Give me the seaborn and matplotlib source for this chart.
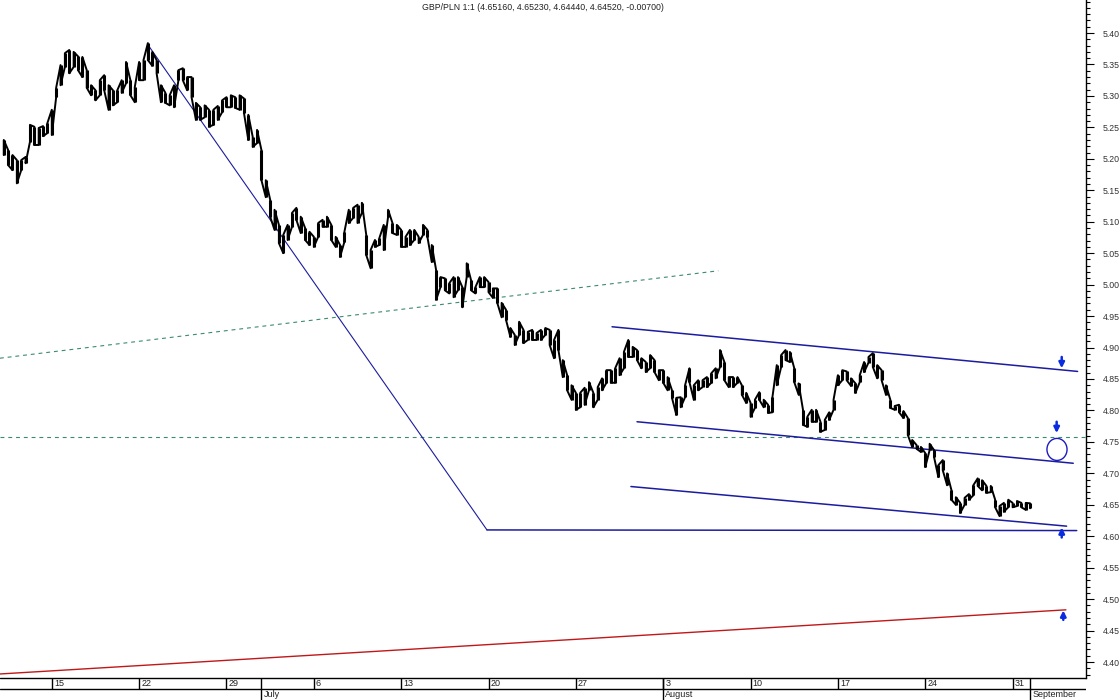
import numpy as np
import pandas as pd
import matplotlib
matplotlib.use("Agg")
import matplotlib.pyplot as plt
from matplotlib.ticker import MultipleLocator, FormatStrFormatter
from matplotlib.patches import Ellipse
import seaborn as sns

sns.set_style("white")
plt.rcParams["font.family"] = ["Liberation Sans", "DejaVu Sans"]

# GBP/PLN, quarter-day bars, x = trading days counted from Mon 15 June
bar_high = [
    5.230, 5.214, 5.206, 5.198, 5.198, 5.203, 5.254, 5.251, 5.249, 5.252,
    5.257, 5.278, 5.313, 5.349, 5.368, 5.373, 5.370, 5.363, 5.362, 5.341,
    5.317, 5.309, 5.325, 5.333, 5.317, 5.309, 5.309, 5.325, 5.354, 5.325,
    5.314, 5.354, 5.357, 5.384, 5.370, 5.357, 5.317, 5.305, 5.301, 5.317,
    5.341, 5.344, 5.330, 5.330, 5.289, 5.282, 5.285, 5.278, 5.278, 5.284,
    5.293, 5.298, 5.301, 5.298, 5.301, 5.296, 5.270, 5.235, 5.246, 5.214,
    5.166, 5.135, 5.119, 5.095, 5.079, 5.095, 5.114, 5.122, 5.108, 5.090,
    5.084, 5.076, 5.098, 5.103, 5.108, 5.095, 5.076, 5.063, 5.084, 5.119,
    5.122, 5.127, 5.130, 5.079, 5.055, 5.071, 5.074, 5.095, 5.119, 5.098,
    5.095, 5.087, 5.076, 5.087, 5.087, 5.076, 5.095, 5.087, 5.063, 5.023,
    5.012, 5.010, 5.002, 5.012, 5.012, 4.996, 5.034, 5.007, 4.996, 5.012,
    5.012, 5.004, 4.994, 4.994, 4.971, 4.960, 4.931, 4.920, 4.941, 4.928,
    4.925, 4.928, 4.923, 4.928, 4.931, 4.928, 4.912, 4.928, 4.880, 4.856,
    4.840, 4.828, 4.828, 4.836, 4.845, 4.828, 4.837, 4.851, 4.864, 4.864,
    4.867, 4.883, 4.893, 4.912, 4.901, 4.896, 4.883, 4.877, 4.888, 4.880,
    4.864, 4.864, 4.853, 4.832, 4.820, 4.821, 4.840, 4.867, 4.840, 4.848,
    4.848, 4.853, 4.859, 4.867, 4.896, 4.877, 4.853, 4.853, 4.853, 4.840,
    4.828, 4.812, 4.817, 4.829, 4.817, 4.809, 4.821, 4.872, 4.888, 4.896,
    4.893, 4.867, 4.843, 4.801, 4.790, 4.801, 4.801, 4.782, 4.785, 4.797,
    4.817, 4.856, 4.864, 4.862, 4.851, 4.843, 4.856, 4.877, 4.885, 4.891,
    4.872, 4.864, 4.840, 4.817, 4.807, 4.809, 4.799, 4.788, 4.753, 4.745,
    4.742, 4.732, 4.747, 4.737, 4.713, 4.721, 4.700, 4.673, 4.662, 4.653,
    4.661, 4.667, 4.681, 4.692, 4.689, 4.680, 4.680, 4.658, 4.648, 4.653,
    4.658, 4.653, 4.656, 4.653, 4.653, 4.6523,
]
bar_low = [
    5.206, 5.190, 5.182, 5.161, 5.182, 5.193, 5.227, 5.222, 5.222, 5.236,
    5.241, 5.238, 5.298, 5.317, 5.346, 5.336, 5.346, 5.341, 5.330, 5.313,
    5.301, 5.293, 5.301, 5.309, 5.278, 5.285, 5.290, 5.305, 5.320, 5.301,
    5.290, 5.325, 5.325, 5.357, 5.348, 5.336, 5.290, 5.289, 5.285, 5.282,
    5.325, 5.325, 5.309, 5.298, 5.262, 5.262, 5.266, 5.251, 5.254, 5.262,
    5.274, 5.282, 5.282, 5.281, 5.278, 5.273, 5.230, 5.219, 5.225, 5.166,
    5.139, 5.108, 5.087, 5.066, 5.050, 5.071, 5.092, 5.103, 5.082, 5.071,
    5.063, 5.060, 5.076, 5.092, 5.092, 5.071, 5.060, 5.044, 5.068, 5.098,
    5.106, 5.098, 5.114, 5.047, 5.026, 5.060, 5.063, 5.055, 5.108, 5.082,
    5.079, 5.060, 5.060, 5.063, 5.071, 5.066, 5.079, 5.076, 5.036, 4.976,
    4.996, 4.991, 4.986, 4.980, 4.991, 4.964, 5.012, 4.991, 4.986, 4.996,
    4.996, 4.988, 4.979, 4.971, 4.948, 4.944, 4.917, 4.904, 4.920, 4.907,
    4.912, 4.912, 4.912, 4.912, 4.920, 4.904, 4.883, 4.896, 4.853, 4.832,
    4.817, 4.801, 4.805, 4.809, 4.832, 4.805, 4.817, 4.832, 4.844, 4.844,
    4.844, 4.856, 4.867, 4.885, 4.885, 4.880, 4.867, 4.861, 4.867, 4.861,
    4.848, 4.844, 4.832, 4.820, 4.793, 4.805, 4.821, 4.845, 4.817, 4.832,
    4.837, 4.837, 4.844, 4.851, 4.869, 4.848, 4.837, 4.837, 4.844, 4.825,
    4.812, 4.790, 4.804, 4.817, 4.805, 4.796, 4.797, 4.840, 4.869, 4.880,
    4.877, 4.845, 4.825, 4.777, 4.774, 4.782, 4.782, 4.766, 4.769, 4.785,
    4.801, 4.840, 4.848, 4.848, 4.839, 4.828, 4.845, 4.861, 4.876, 4.869,
    4.851, 4.848, 4.825, 4.804, 4.801, 4.797, 4.788, 4.761, 4.742, 4.739,
    4.734, 4.710, 4.737, 4.726, 4.694, 4.705, 4.681, 4.658, 4.650, 4.637,
    4.650, 4.658, 4.665, 4.680, 4.673, 4.669, 4.670, 4.646, 4.632, 4.639,
    4.646, 4.646, 4.648, 4.646, 4.642, 4.6444,
]
bar_t = -2.75 + 0.25 * np.arange(len(bar_high))

# drawn trend lines: (t start, t end), (price start, price end)
fall_t, fall_p = [5.51, 24.91], [5.381, 4.610]
base_t, base_p = [24.91, 58.67], [4.610, 4.609]
chan_top_t, chan_top_p = [32.07, 58.72], [4.933, 4.862]
chan_mid_t, chan_mid_p = [33.50, 58.47], [4.782, 4.716]
chan_low_t, chan_low_p = [33.15, 58.09], [4.679, 4.616]
red_t, red_p = [-2.97, 58.05], [4.381, 4.483]
green_t, green_p = [-2.97, 38.15], [4.883, 5.022]
green_level = 4.757

# signal arrows: position, tail price, tip price
arrow_t = [57.81, 57.52, 57.81, 57.90]
arrow_tail = [4.885, 4.782, 4.598, 4.467]
arrow_tip = [4.867, 4.764, 4.614, 4.482]
circle_t, circle_p = 57.54, 4.738

week_t = [0, 5, 10, 15, 20, 25, 30, 35, 40, 45, 50, 55]
week_lbl = ["15", "22", "29", "6", "13", "20", "27", "3", "10", "17", "24", "31"]
month_t = [12, 35, 56]
month_lbl = ["July", "August", "September"]

title = "GBP/PLN 1:1 (4.65160, 4.65230, 4.64440, 4.64520, -0.00700)"

bars = pd.DataFrame({"t": bar_t, "high": bar_high, "low": bar_low})
pts = bars[["low", "high"]].to_numpy().copy()
pts[1::2] = pts[1::2, ::-1]
zig = pd.DataFrame({"t": np.repeat(bars["t"].to_numpy(), 2), "price": pts.ravel()})

fig = plt.figure(figsize=(11.2, 7), dpi=100)
ax = fig.add_axes([0, 22 / 700, 1086 / 1120, 678 / 700])
xlim = (-2.965, 59.2)
ax.set_xlim(*xlim)
ax.set_ylim(4.3746, 5.4525)

blue = "#1c1ca0"
ax.axhline(green_level, color="#3c8c6c", lw=0.8, ls=(0, (3.5, 3.5)))
ax.plot(green_t, green_p, color="#3c8c6c", lw=0.8, ls=(0, (3.5, 3.5)))
ax.plot(red_t, red_p, color="#c0181a", lw=1.0)
ax.plot(fall_t, fall_p, color=blue, lw=0.8)
ax.plot(base_t, base_p, color=blue, lw=1.1)
for tt, pp in [(chan_top_t, chan_top_p), (chan_mid_t, chan_mid_p), (chan_low_t, chan_low_p)]:
    ax.plot(tt, pp, color=blue, lw=1.1)

# price: high-low bars plus a zigzag through them for the dense look
ax.vlines(bars["t"], bars["low"], bars["high"], color="black", lw=2.2)
sns.lineplot(data=zig, x="t", y="price", sort=False, estimator=None,
             color="black", lw=1.4, ax=ax)

for t, a, b in zip(arrow_t, arrow_tail, arrow_tip):
    ax.annotate("", xy=(t, b), xytext=(t, a),
                arrowprops=dict(arrowstyle="-|>", color="#0a2be0", lw=1.8,
                                mutation_scale=8, shrinkA=0, shrinkB=0))
ax.add_patch(Ellipse((circle_t, circle_p), 1.15, 0.035, fill=False, ec="#1c1cc0", lw=1))

ax.text(0.5, 1 - 7 / 678, title, transform=ax.transAxes, ha="center", va="center",
        fontsize=6.3, color="#222222")

ax.set_xlabel("")
ax.set_ylabel("")
ax.set_xticks([])
for s in ["top", "left", "bottom"]:
    ax.spines[s].set_visible(False)
ax.spines["right"].set_color("black")
ax.spines["right"].set_linewidth(1)
ax.yaxis.tick_right()
ax.set_yticks(np.arange(4.40, 5.401, 0.05))
ax.yaxis.set_major_formatter(FormatStrFormatter("%.2f"))
ax.yaxis.set_minor_locator(MultipleLocator(0.01))
ax.tick_params(axis="y", which="major", length=6, width=0.8, pad=6,
               labelsize=6.3, labelcolor="#333333", color="black")
ax.tick_params(axis="y", which="minor", length=3, width=0.8, color="black")

# date strip under the chart
axd = fig.add_axes([0, 0, 1086 / 1120, 22 / 700])
axd.set_xlim(*xlim)
axd.set_ylim(0, 1)
axd.axis("off")
axd.axhline(1, color="black", lw=1, clip_on=False)
axd.axhline(0.5, color="black", lw=1)
axd.vlines(week_t, 0.5, 1, color="black", lw=1)
axd.vlines(month_t, 0, 1, color="black", lw=1)
for t, lbl in zip(week_t, week_lbl):
    axd.annotate(lbl, (t, 0.75), xytext=(1.5, 0), textcoords="offset points",
                 va="center", ha="left", fontsize=6.5, color="#222222")
for t, lbl in zip(month_t, month_lbl):
    axd.annotate(lbl, (t, 0.25), xytext=(1.5, 0), textcoords="offset points",
                 va="center", ha="left", fontsize=6.5, color="#222222")

fig.savefig("out.png", dpi=100)
